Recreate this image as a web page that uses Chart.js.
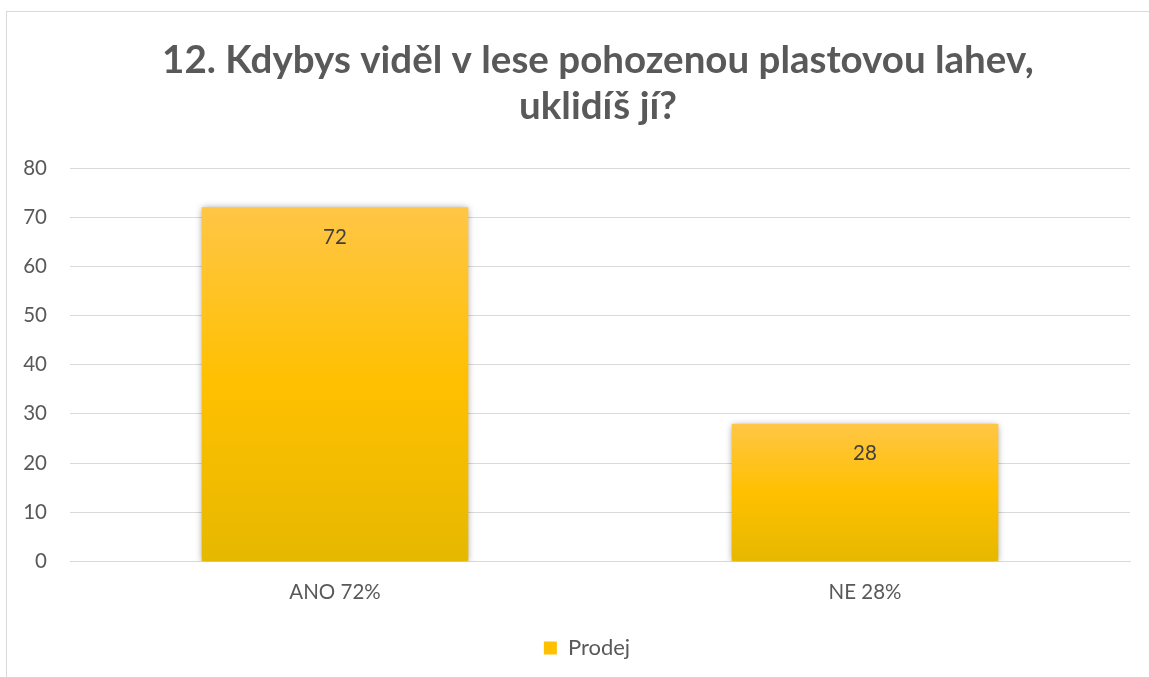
<!DOCTYPE html>
<html>
<head>
<meta charset="utf-8">
<script src="https://cdn.jsdelivr.net/npm/chart.js@4.4.0/dist/chart.umd.min.js"></script>
<style>
  html, body { margin: 0; padding: 0; background: #fff; overflow: hidden; }
  #frame { position: absolute; left: 6px; top: 11px; width: 1200px; height: 700px; border: 1px solid #d9d9d9; box-sizing: border-box; }
  #wrap { position: absolute; left: 0; top: 0; width: 1149px; height: 677px; }
</style>
</head>
<body>
<div id="frame"></div>
<div id="wrap"><canvas id="chart"></canvas></div>
<script>
const categories = ['ANO 72%', 'NE 28%'];
const values = [72, 28];
const seriesName = 'Prodej';
const titleLines = ['12. Kdybys viděl v lese pohozenou plastovou lahev,', 'uklidíš jí?'];
const yTicks = [0, 10, 20, 30, 40, 50, 60, 70, 80];

const textColor = '#595959';
const fontFamily = 'Lato, "Open Sans", sans-serif';
const labelSize = 20.5;

function barGradient(ctx) {
  const chart = ctx.chart;
  const area = chart.chartArea;
  if (!area || ctx.type !== 'data') return '#FFC000';
  const y = chart.scales.y;
  const top = y.getPixelForValue(ctx.raw);
  const base = y.getPixelForValue(0);
  const g = chart.ctx.createLinearGradient(0, top, 0, base);
  g.addColorStop(0, '#FFC646');
  g.addColorStop(0.5, '#FFC000');
  g.addColorStop(1, '#E6B800');
  return g;
}

// title and legend sit a bit right of the canvas centre in the original
const nudgeBoxes = {
  id: 'nudgeBoxes',
  afterLayout(chart) {
    const t = chart.titleBlock;
    if (t) { t.left += 33; t.right += 33; }
    const l = chart.legend;
    if (l) { l.left += 22; l.right += 22; }
  }
};

// soft shadow round the bars, then the value labels near the bar tops
const barExtras = {
  id: 'barExtras',
  beforeDatasetsDraw(chart) {
    const c = chart.ctx;
    c.save();
    c.shadowColor = 'rgba(0,0,0,0.4)';
    c.shadowBlur = 7;
    c.shadowOffsetX = 0;
    c.shadowOffsetY = 1;
  },
  afterDatasetsDraw(chart) {
    const c = chart.ctx;
    c.restore();
    const meta = chart.getDatasetMeta(0);
    c.save();
    c.fillStyle = '#404040';
    c.font = labelSize + 'px ' + fontFamily;
    c.textAlign = 'center';
    c.textBaseline = 'middle';
    meta.data.forEach((bar, i) => {
      c.fillText(String(values[i]), bar.x, bar.y + 30);
    });
    c.restore();
  }
};

new Chart(document.getElementById('chart'), {
  type: 'bar',
  data: {
    labels: categories,
    datasets: [{
      label: seriesName,
      data: values,
      backgroundColor: barGradient,
      borderWidth: 0,
      categoryPercentage: 1,
      barPercentage: 0.503
    }]
  },
  options: {
    responsive: true,
    maintainAspectRatio: false,
    animation: false,
    layout: { padding: { left: 0, right: 19, top: 0, bottom: 8 } },
    plugins: {
      title: {
        display: true,
        text: titleLines,
        color: textColor,
        font: { family: fontFamily, size: 38.5, weight: 'bold', lineHeight: '46px' },
        padding: { top: 37.5, bottom: 38.5 }
      },
      legend: {
        position: 'bottom',
        labels: {
          color: textColor,
          font: { family: fontFamily, size: 22 },
          boxWidth: 13,
          boxHeight: 13,
          padding: 8,
          generateLabels(chart) {
            return [{
              text: seriesName,
              fillStyle: '#FFC000',
              strokeStyle: '#FFC000',
              lineWidth: 0,
              fontColor: textColor,
              datasetIndex: 0
            }];
          }
        }
      },
      tooltip: { enabled: false }
    },
    scales: {
      x: {
        afterFit(scale) { scale.height += 5; },
        grid: { display: false, drawTicks: false },
        border: { display: true, color: '#d9d9d9', width: 1 },
        ticks: { color: textColor, font: { family: fontFamily, size: labelSize }, padding: 19 }
      },
      y: {
        min: 0,
        max: 80,
        afterFit(scale) { scale.width = 70; },
        afterBuildTicks(scale) { scale.ticks = yTicks.map(v => ({ value: v })); },
        grid: { color: '#d9d9d9', lineWidth: 1, drawTicks: false },
        border: { display: false },
        ticks: { color: textColor, font: { family: fontFamily, size: labelSize }, padding: 23 }
      }
    }
  },
  plugins: [nudgeBoxes, barExtras]
});
</script>
</body>
</html>
